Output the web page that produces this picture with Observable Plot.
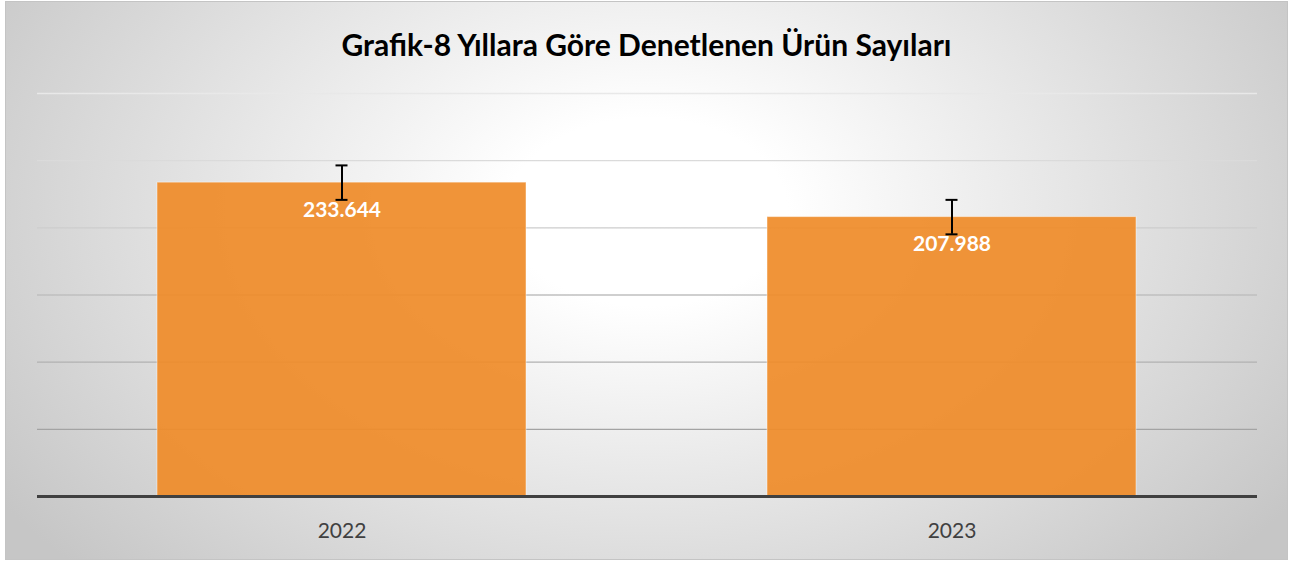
<!DOCTYPE html>
<html>
<head>
<meta charset="utf-8">
<script src="https://cdn.jsdelivr.net/npm/d3@7"></script>
<script src="https://cdn.jsdelivr.net/npm/@observablehq/plot@0.6"></script>
<style>
  html, body { margin: 0; padding: 0; background: #ffffff; }
  #frame {
    position: absolute; left: 5px; top: 1px;
    width: 1283px; height: 559px; box-sizing: border-box;
    border: 1px solid #c4c4c4;
    background: radial-gradient(ellipse 780px 520px at 641px 210px, #ffffff 0%, #ffffff 18%, #c6c6c6 100%);
    font-family: Lato, "Open Sans", sans-serif;
  }
  #title {
    box-sizing: border-box; height: 58px; padding-top: 26px;
    line-height: 32px; text-align: center;
    font-size: 30px; font-weight: bold; color: #000;
  }
  #chart svg { display: block; background: transparent; }
</style>
</head>
<body>
<div id="frame">
  <div id="title">Grafik-8 Yıllara Göre Denetlenen Ürün Sayıları</div>
  <div id="chart"></div>
</div>
<script>
const years = ["2022", "2023"];
const counts = [233644, 207988];
const stdErrors = [12828, 12828];
const gridValues = [50000, 100000, 150000, 200000, 250000, 300000];
const yMax = 300000;

const trFormat = d3.formatLocale({decimal: ",", thousands: ".", grouping: [3], currency: ["₺", ""]}).format(",");

const data = years.map((year, i) => ({
  year,
  value: counts[i],
  lo: counts[i] - stdErrors[i],
  hi: counts[i] + stdErrors[i],
  label: trFormat(counts[i])
}));

const gradientDefs = () => {
  const defs = d3.create("svg:defs");
  const g = defs.append("linearGradient")
    .attr("id", "gridGrad")
    .attr("gradientUnits", "userSpaceOnUse")
    .attr("x1", 0).attr("x2", 0).attr("y1", 30).attr("y2", 370);
  g.append("stop").attr("offset", "0%").attr("stop-color", "#e9e9e9");
  g.append("stop").attr("offset", "100%").attr("stop-color", "#a3a3a3");
  return defs.node();
};

const chart = Plot.plot({
  width: 1281,
  height: 497,
  marginLeft: 31,
  marginRight: 30,
  marginTop: 33,
  marginBottom: 61,
  style: {fontFamily: "Lato, 'Open Sans', sans-serif", background: "transparent"},
  x: {domain: years, paddingInner: 0.395, paddingOuter: 0.1975, axis: null},
  y: {domain: [0, yMax], axis: null},
  marks: [
    gradientDefs,
    Plot.ruleY(gridValues, {stroke: "url(#gridGrad)", strokeWidth: 1.3}),
    Plot.barY(data, {x: "year", y: "value", fill: "#EF8C2A", fillOpacity: 0.93, stroke: "#ffffff", strokeOpacity: 0.45, strokeWidth: 1}),
    Plot.ruleY([0], {stroke: "#404040", strokeWidth: 3}),
    Plot.ruleX(data, {x: "year", y1: "lo", y2: "hi", stroke: "#000", strokeWidth: 2}),
    Plot.tickY(data, {x: "year", y: "lo", stroke: "#000", strokeWidth: 2, insetLeft: 178.5, insetRight: 178.5}),
    Plot.tickY(data, {x: "year", y: "hi", stroke: "#000", strokeWidth: 2, insetLeft: 178.5, insetRight: 178.5}),
    Plot.text(data, {x: "year", y: "value", text: "label", dy: 27.5, fill: "#ffffff", fontWeight: "bold", fontSize: 21}),
    Plot.axisX({tickSize: 0, tickPadding: 27, fontSize: 21, color: "#404040", label: null})
  ]
});
document.getElementById("chart").appendChild(chart);
</script>
</body>
</html>
